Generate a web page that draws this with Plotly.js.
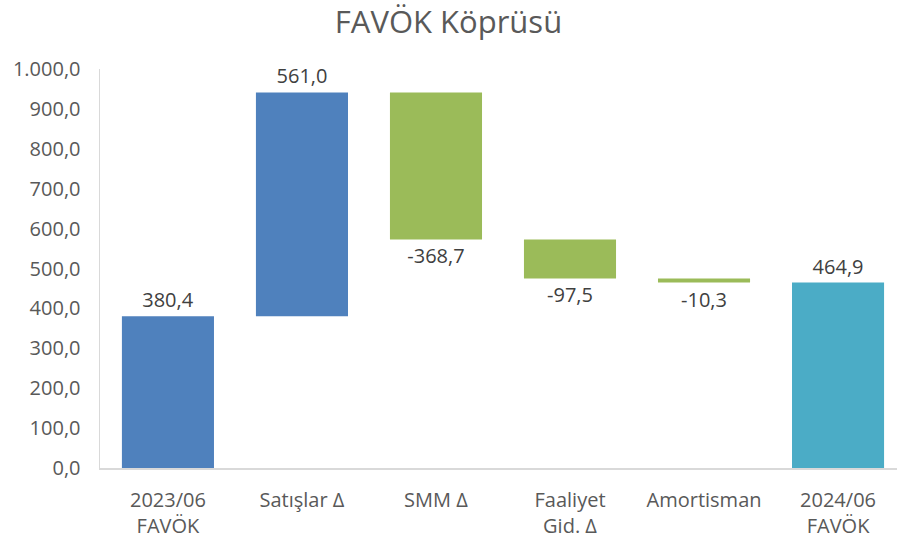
<!DOCTYPE html>
<html>
<head>
<meta charset="utf-8">
<script src="https://cdn.plot.ly/plotly-3.0.1.min.js"></script>
<style>html,body{margin:0;padding:0;background:#fff;}#chart{width:897px;height:548px;}</style>
</head>
<body>
<div id="chart"></div>
<script>
var categories = ["2023/06<br>FAVÖK", "Satışlar Δ", "SMM Δ", "Faaliyet<br>Gid. Δ", "Amortisman", "2024/06<br>FAVÖK"];
var measures = ["absolute", "relative", "relative", "relative", "relative", "total"];
var values = [380.4, 561.0, -368.7, -97.5, -10.3, 464.9];
var barColors = ["#4F81BD", "#4F81BD", "#9BBB59", "#9BBB59", "#9BBB59", "#4BACC6"];

var bases = [], heights = [], running = 0;
for (var i = 0; i < values.length; i++) {
  if (measures[i] === "absolute" || measures[i] === "total") {
    bases.push(0); heights.push(values[i]); running = values[i];
  } else {
    bases.push(running); heights.push(values[i]); running += values[i];
  }
}
var labels = values.map(function(v){ return v.toFixed(1).replace(".", ","); });

var trace = {
  type: "bar",
  x: categories,
  y: heights,
  base: bases,
  width: 0.687,
  marker: {color: barColors},
  text: labels,
  textposition: "outside",
  textfont: {family: "Open Sans, sans-serif", size: 20, color: "#404040"},
  cliponaxis: false,
  hoverinfo: "skip"
};

var layout = {
  width: 897, height: 548,
  margin: {l: 100, r: 0, t: 69, b: 80},
  paper_bgcolor: "#ffffff", plot_bgcolor: "#ffffff",
  separators: ",.",
  showlegend: false,
  title: {text: "FAVÖK Köprüsü", x: 0.5, xanchor: "center", y: 0.96, yanchor: "middle",
          font: {family: "Open Sans, sans-serif", size: 31, color: "#595959"}},
  xaxis: {
    range: [-0.507, 5.44], showgrid: false, zeroline: false,
    showline: true, linecolor: "#d9d9d9", linewidth: 1.5,
    ticks: "", ticklabelstandoff: 13,
    tickfont: {family: "Open Sans, sans-serif", size: 20, color: "#595959", lineposition: "none"}
  },
  yaxis: {
    range: [0, 1000], dtick: 100, tickformat: ",.1f", showgrid: false, zeroline: false,
    showline: true, linecolor: "#d9d9d9", linewidth: 1.5, ticks: "",
    ticklabelstandoff: 14,
    tickfont: {family: "Open Sans, sans-serif", size: 20, color: "#595959"}
  }
};
Plotly.newPlot("chart", [trace], layout, {displayModeBar: false, staticPlot: true});
</script>
</body>
</html>
